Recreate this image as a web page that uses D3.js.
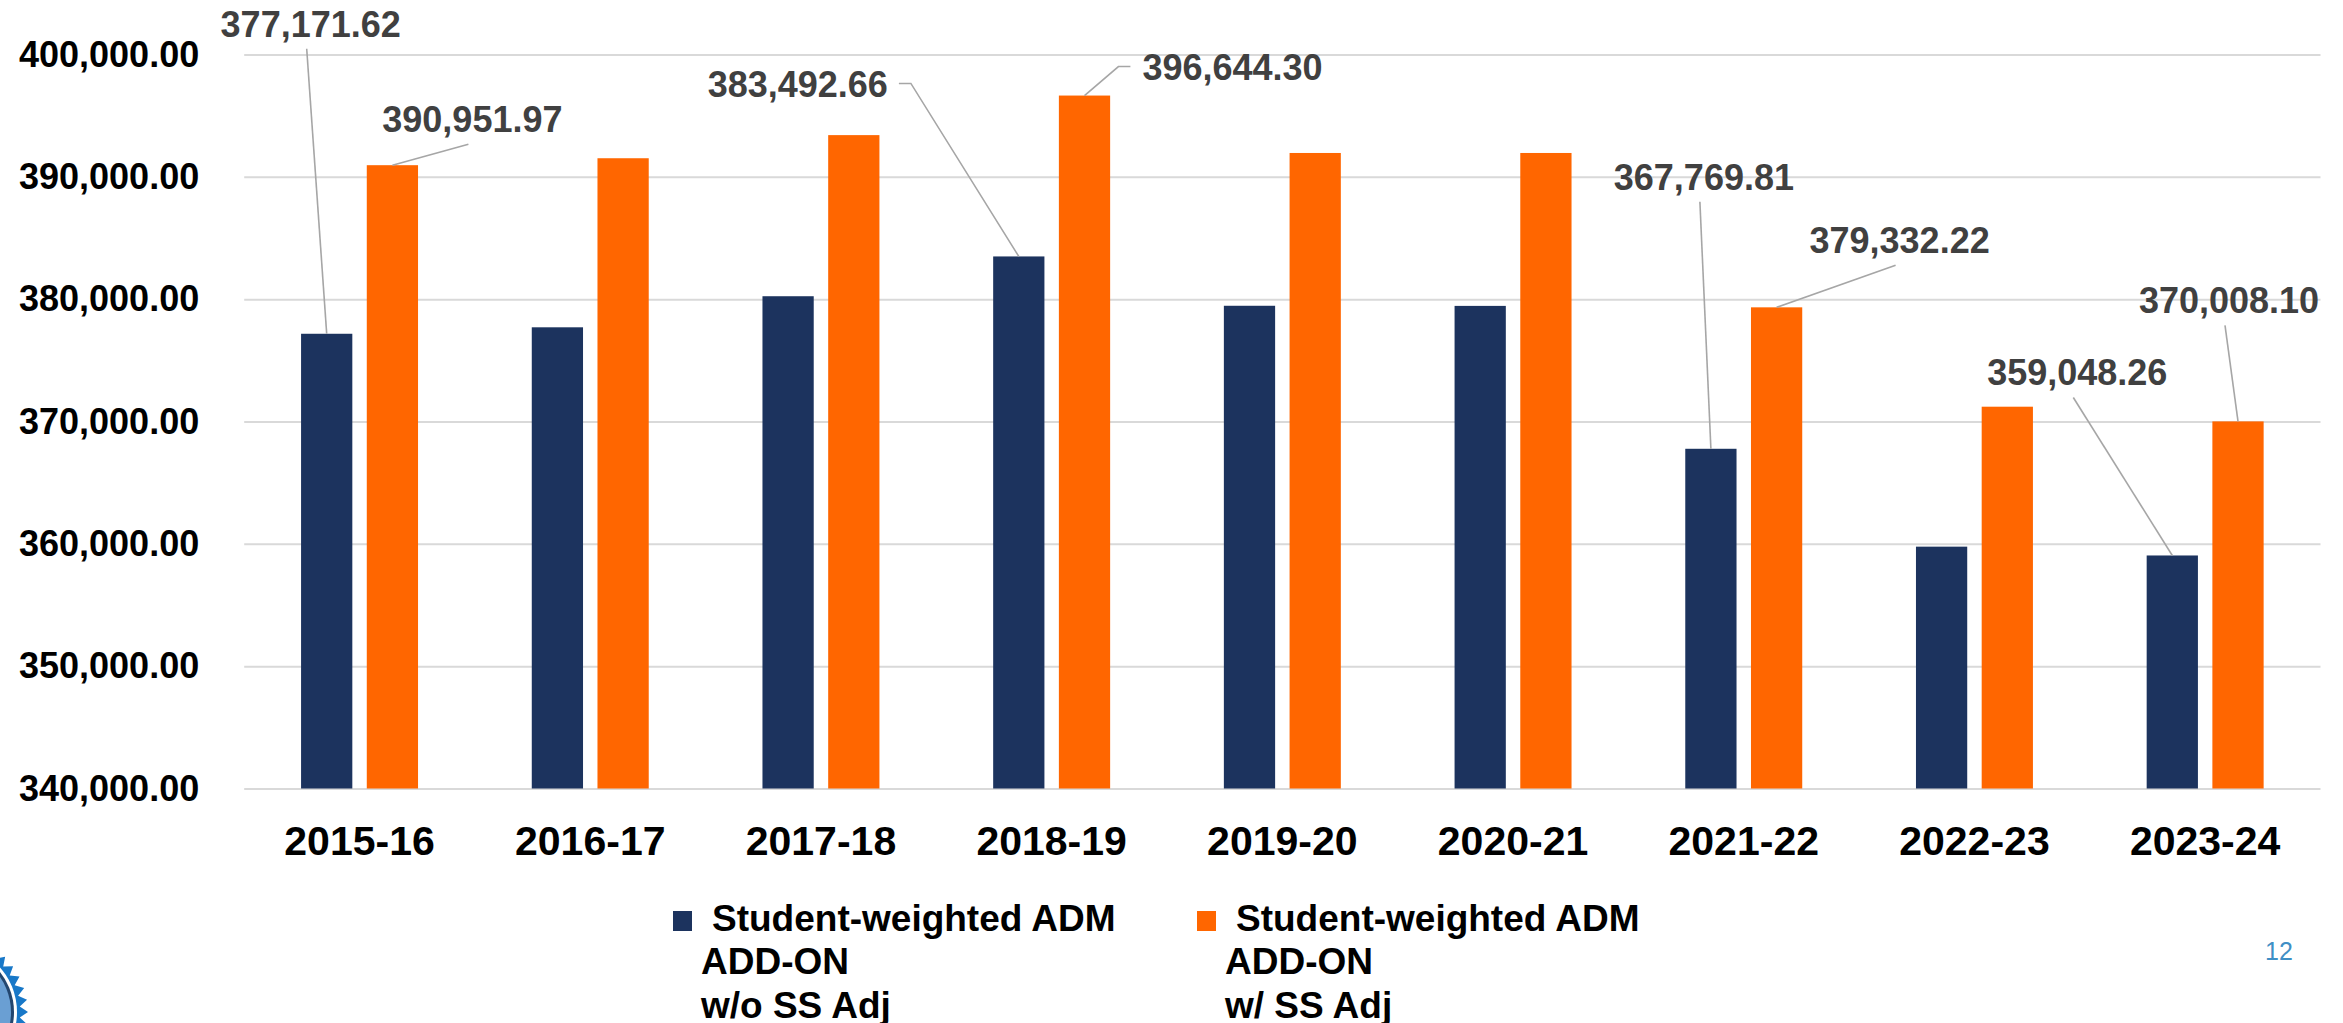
<!DOCTYPE html>
<html>
<head>
<meta charset="utf-8">
<script src="https://cdn.jsdelivr.net/npm/d3@7"></script>
<style>
  html, body { margin: 0; padding: 0; background: #ffffff; }
  svg { display: block; }
  text { font-family: "Liberation Sans", Arial, "DejaVu Sans", sans-serif; }
</style>
</head>
<body>
<svg id="chart" width="2343" height="1023"></svg>
<script>
// School years on the x axis
const categories = ["2015-16", "2016-17", "2017-18", "2018-19", "2019-20", "2020-21", "2021-22", "2022-23", "2023-24"];

// Student-weighted ADM add-on, without small-school adjustment
const admWithoutSS = [377171.62, 377700, 380240, 383492.66, 379460, 379450, 367769.81, 359770, 359048.26];
// Student-weighted ADM add-on, with small-school adjustment
const admWithSS = [390951.97, 391520, 393410, 396644.30, 391950, 391950, 379332.22, 371210, 370008.10];

const seriesNames = ["Student-weighted ADM ADD-ON w/o SS Adj", "Student-weighted ADM ADD-ON w/ SS Adj"];
const legendLines = [
  ["Student-weighted ADM", "ADD-ON", "w/o SS Adj"],
  ["Student-weighted ADM", "ADD-ON", "w/ SS Adj"]
];
const yTicks = [340000, 350000, 360000, 370000, 380000, 390000, 400000];

// Which bars carry a callout label: series index, category index
const labelledBars = [
  [0, 0], [1, 0], [0, 3], [1, 3], [0, 6], [1, 6], [0, 8], [1, 8]
];

// Callout placement (label centre offset from bar top, leader style)
const calloutLayout = [
  { dx: -16,  dy: -310, leader: "below" },
  { dx: 80,   dy: -46,  leader: "below" },
  { dx: -221, dy: -172, leader: "right" },
  { dx: 148,  dy: -28,  leader: "left"  },
  { dx: -7,   dy: -272, leader: "below" },
  { dx: 123,  dy: -67,  leader: "below" },
  { dx: -95,  dy: -183, leader: "below" },
  { dx: -9,   dy: -121, leader: "below" }
];

const seriesValues = [admWithoutSS, admWithSS];
const colors = ["#1c335e", "#ff6600"];

const svg = d3.select("#chart");
svg.append("rect").attr("width", 2343).attr("height", 1023).attr("fill", "#ffffff");

const plot = { left: 244.2, right: 2320.5, top: 54.5, bottom: 788.5 };

const y = d3.scaleLinear().domain([340000, 400000]).range([plot.bottom, plot.top]);
const x0 = d3.scaleBand().domain(categories).range([plot.left, plot.right])
  .paddingInner(0.493).paddingOuter(0.2465);
const x1 = d3.scaleBand().domain([0, 1]).range([0, x0.bandwidth()])
  .paddingInner(0.22).paddingOuter(0);

const fmt = d3.format(",.2f");

// Gridlines + y tick labels
const yAxis = d3.axisLeft(y)
  .tickValues(yTicks)
  .tickFormat(d => fmt(d))
  .tickSizeInner(-(plot.right - plot.left))
  .tickSizeOuter(0)
  .tickPadding(45);

const gy = svg.append("g").attr("transform", `translate(${plot.left},0)`).call(yAxis);
gy.select(".domain").remove();
gy.selectAll(".tick line").attr("stroke", "#d9d9d9").attr("stroke-width", 2);
gy.selectAll(".tick text")
  .attr("font-size", 36).attr("font-weight", "bold").attr("fill", "#000000")
  .attr("font-family", "Liberation Sans, Arial, sans-serif");

// Category axis
const xAxis = d3.axisBottom(x0).tickSize(0).tickPadding(37);
const gx = svg.append("g").attr("transform", `translate(0,${plot.bottom})`).call(xAxis);
gx.select(".domain").remove();
gx.selectAll(".tick text")
  .attr("font-size", 41).attr("font-weight", "bold").attr("fill", "#000000")
  .attr("font-family", "Liberation Sans, Arial, sans-serif");

// Bars
const groups = svg.append("g").selectAll("g")
  .data(categories)
  .join("g")
  .attr("transform", d => `translate(${x0(d)},0)`);

groups.selectAll("rect")
  .data((d, i) => seriesValues.map((vals, s) => ({ s, v: vals[i] })))
  .join("rect")
  .attr("x", d => x1(d.s))
  .attr("width", x1.bandwidth())
  .attr("y", d => y(d.v))
  .attr("height", d => y(340000) - y(d.v))
  .attr("fill", d => colors[d.s]);

// Callout labels with leader lines
const callouts = svg.append("g");
labelledBars.forEach(([s, i], k) => {
  const lay = calloutLayout[k];
  const v = seriesValues[s][i];
  const bx = x0(categories[i]) + x1(s) + x1.bandwidth() / 2;
  const by = y(v);
  const lx = bx + lay.dx;
  const ly = by + lay.dy;

  const t = callouts.append("text")
    .attr("x", lx)
    .attr("y", ly + 12.9)
    .attr("text-anchor", "middle")
    .attr("font-size", 36)
    .attr("font-weight", "bold")
    .attr("fill", "#404040")
    .text(fmt(v));
  const w = t.node().getComputedTextLength();

  let pts;
  if (lay.leader === "below") {
    pts = [[lx - 4, ly + 25], [bx, by]];
  } else if (lay.leader === "right") {
    const sx = lx + w / 2 + 11;
    pts = [[sx, ly - 1], [sx + 12, ly - 1], [bx, by]];
  } else {
    const sx = lx - w / 2 - 12;
    pts = [[sx, ly - 1], [sx - 12, ly - 1], [bx, by]];
  }
  callouts.insert("path", "text")
    .attr("d", d3.line()(pts))
    .attr("fill", "none")
    .attr("stroke", "#a6a6a6")
    .attr("stroke-width", 1.6);
});

// Legend
const legend = svg.append("g");
const legendX = [673, 1197];
legendLines.forEach((lines, s) => {
  const g = legend.append("g").attr("transform", `translate(${legendX[s]},0)`);
  g.append("rect").attr("x", 0).attr("y", 911).attr("width", 19).attr("height", 20).attr("fill", colors[s]);
  lines.forEach((ln, j) => {
    g.append("text")
      .attr("x", j === 0 ? 39 : 28)
      .attr("y", 931 + j * 43.3)
      .attr("font-size", 37)
      .attr("font-weight", "bold")
      .attr("fill", "#000000")
      .text(ln);
  });
});

// Page number
svg.append("text")
  .attr("x", 2265).attr("y", 960)
  .attr("font-size", 25)
  .attr("fill", "#3f8fc5")
  .text("12");

// Corner seal, mostly off-canvas
const seal = svg.append("g").attr("transform", "translate(-50,1012)");
const teeth = 40;
const sawPts = d3.range(teeth * 2).map(k => [k * Math.PI / teeth, k % 2 === 0 ? 78 : 70]);
seal.append("path")
  .attr("d", d3.lineRadial().curve(d3.curveLinearClosed)(sawPts))
  .attr("fill", "#1878c8");
seal.append("circle").attr("r", 67).attr("fill", "#ffffff");
seal.append("circle").attr("r", 64).attr("fill", "#23466e");
seal.append("circle").attr("r", 61).attr("fill", "#6a9fd3");
seal.append("circle").attr("r", 40).attr("fill", "none").attr("stroke", "#ffffff").attr("stroke-width", 1.5);
</script>
</body>
</html>
